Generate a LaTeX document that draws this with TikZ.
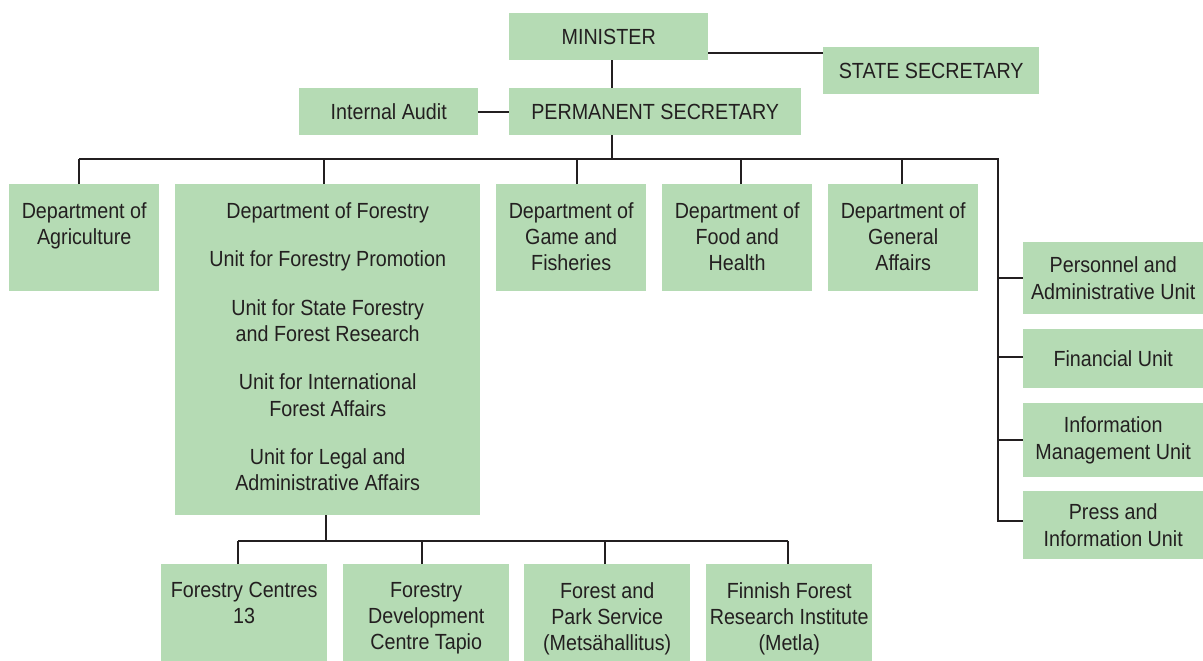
\documentclass[tikz,border=0pt]{standalone}
\usepackage{fontspec}
\setmainfont{Liberation Sans}[FakeStretch=0.9]
\usetikzlibrary{positioning, calc}

\begin{document}
\begin{tikzpicture}[x=1pt, y=-1pt,
        orgbox/.style={fill=boxgreen, inner sep=0pt, anchor=north west},
        orgtext/.style={text=inkdark, align=center, inner sep=0pt,
            font=\fontsize{21.9pt}{26.3pt}\selectfont},
        link/.style={draw=inkdark, line width=1.9pt}]
        % Colours taken from the chart
        \definecolor{boxgreen}{RGB}{181, 219, 180}
        \definecolor{inkdark}{RGB}{35, 31, 32}

        \useasboundingbox (0,0) rectangle (1203,661);

        % 1. Top level: minister, secretaries, audit
        \node[orgbox, minimum width=199pt, minimum height=47pt] (minister) at (509,13) {};
        \node[orgtext] at (minister) {MINISTER};
        \node[orgbox, minimum width=216pt, minimum height=47pt] (state) at (823,47) {};
        \node[orgtext] at (state) {STATE SECRETARY};
        \node[orgbox, minimum width=179pt, minimum height=47pt] (audit) at (299,88) {};
        \node[orgtext] at (audit) {Internal Audit};
        \node[orgbox, minimum width=292pt, minimum height=47pt] (permsec) at (509,88) {};
        \node[orgtext] at (permsec) {PERMANENT SECRETARY};

        % 2. Departments (text set from the top of the box)
        \node[orgbox, minimum width=150pt, minimum height=107pt] (agri) at (9,184) {};
        \node[orgtext, anchor=north] at ([yshift=-18pt]agri.north) {Department of\\Agriculture};
        \node[orgbox, minimum width=305pt, minimum height=331pt] (forestry) at (175,184) {};
        \node[orgtext, anchor=north] at ([yshift=-18.5pt]forestry.north)
            {Department of Forestry\\[22pt]
             Unit for Forestry Promotion\\[22pt]
             Unit for State Forestry\\and Forest Research\\[22pt]
             Unit for International\\Forest Affairs\\[22pt]
             Unit for Legal and\\Administrative Affairs};
        \node[orgbox, minimum width=150pt, minimum height=107pt] (game) at (496,184) {};
        \node[orgtext, anchor=north] at ([yshift=-18pt]game.north) {Department of\\Game and\\Fisheries};
        \node[orgbox, minimum width=150pt, minimum height=107pt] (food) at (662,184) {};
        \node[orgtext, anchor=north] at ([yshift=-18pt]food.north) {Department of\\Food and\\Health};
        \node[orgbox, minimum width=150pt, minimum height=107pt] (general) at (828,184) {};
        \node[orgtext, anchor=north] at ([yshift=-18pt]general.north) {Department of\\General\\Affairs};

        % 3. Units on the right
        \node[orgbox, minimum width=180pt, minimum height=72pt] (personnel) at (1023,242) {};
        \node[orgtext] at (personnel) {Personnel and\\Administrative Unit};
        \node[orgbox, minimum width=180pt, minimum height=59pt] (financial) at (1023,329) {};
        \node[orgtext] at (financial) {Financial Unit};
        \node[orgbox, minimum width=180pt, minimum height=74pt] (infomgmt) at (1023,403) {};
        \node[orgtext] at (infomgmt) {Information\\Management Unit};
        \node[orgbox, minimum width=180pt, minimum height=68pt] (press) at (1023,491) {};
        \node[orgtext] at (press) {Press and\\Information Unit};

        % 4. Bodies under the Department of Forestry
        \node[orgbox, minimum width=166pt, minimum height=97pt] (centres) at (161,564) {};
        \node[orgtext, anchor=north] at ([yshift=-18pt]centres.north) {Forestry Centres\\13};
        \node[orgbox, minimum width=166pt, minimum height=97pt] (tapio) at (343,564) {};
        \node[orgtext, anchor=north] at ([yshift=-18pt]tapio.north) {Forestry\\Development\\Centre Tapio};
        \node[orgbox, minimum width=166pt, minimum height=97pt] (park) at (524,564) {};
        \node[orgtext, anchor=north] at ([yshift=-18pt]park.north) {Forest and\\Park Service\\(Metsähallitus)};
        \node[orgbox, minimum width=166pt, minimum height=97pt] (metla) at (706,564) {};
        \node[orgtext, anchor=north] at ([yshift=-18pt]metla.north) {Finnish Forest\\Research Institute\\(Metla)};

        % 5. Connectors
        \coordinate (bus_l) at (79,159);
        \coordinate (bus_r) at (998,159);
        \coordinate (sub_l) at (238,541);
        \coordinate (sub_r) at (788,541);

        \draw[link] ([xshift=3.5pt]minister.south) -- ([xshift=3.5pt]minister.south |- permsec.north);
        \draw[link] ([yshift=-16.5pt]minister.east) -- ([yshift=-16.5pt]minister.east -| state.west);
        \draw[link] (audit.east) -- (permsec.west);
        \draw[link] ([xshift=-43pt]permsec.south) -- ([xshift=-43pt]permsec.south |- bus_l);

        % main bus, then down the right side to the press unit
        \draw[link] (bus_l) -- (bus_r) |- ([yshift=4pt]press.west);
        \foreach \n/\dx in {agri/-5, forestry/-3.5, game/6, food/4, general/-1}
            \draw[link] ([xshift=\dx pt]\n.north) -- ([xshift=\dx pt]\n.north |- bus_l);
        \foreach \n/\dy in {personnel/0, financial/1.5, infomgmt/0}
            \draw[link] ([yshift=\dy pt]\n.west) -- ([yshift=\dy pt]\n.west -| bus_r);

        % lower bus
        \draw[link] ([xshift=-1.5pt]forestry.south) -- ([xshift=-1.5pt]forestry.south |- sub_l);
        \draw[link] (sub_l) -- (sub_r);
        \foreach \n/\dx in {centres/-6, tapio/-4, park/-2, metla/-1}
            \draw[link] ([xshift=\dx pt]\n.north) -- ([xshift=\dx pt]\n.north |- sub_l);

    \end{tikzpicture}
\end{document}
